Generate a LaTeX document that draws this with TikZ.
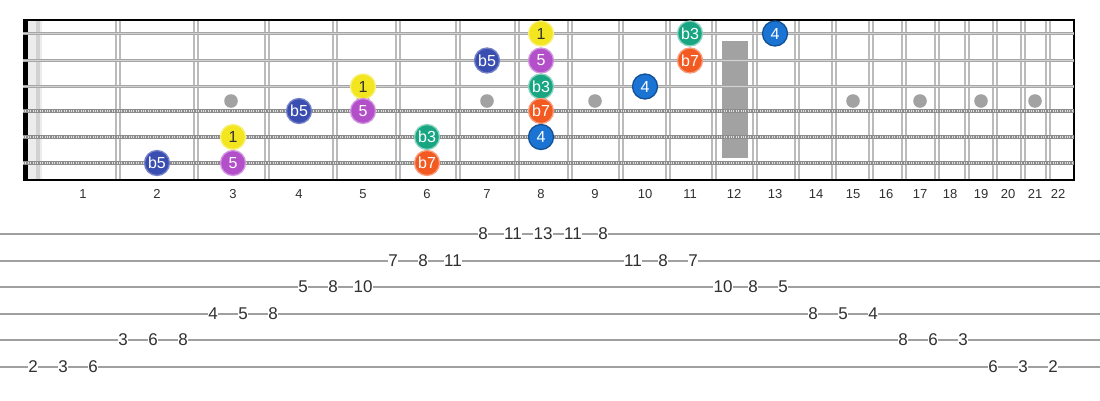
\documentclass[tikz,border=0pt]{standalone}
\usepackage{fontspec}
\setmainfont{Liberation Sans}
\definecolor{cY}{HTML}{F3E620}
\definecolor{cP}{HTML}{B24FC9}
\definecolor{cG}{HTML}{17A582}
\definecolor{cO}{HTML}{F25A22}
\definecolor{cB}{HTML}{1B74D3}
\definecolor{cI}{HTML}{3A4DB0}
\definecolor{markgray}{HTML}{A2A2A2}
\definecolor{fretc}{HTML}{BBBBBB}
\definecolor{strc}{HTML}{A6A6A6}
\definecolor{woundc}{HTML}{8C8C8C}
\definecolor{tabc}{HTML}{A0A0A0}
\definecolor{txt}{HTML}{303030}
\tikzset{
  note/.style={circle, minimum size=25pt, inner sep=0pt, line width=1.3pt, text=white, font=\fontsize{16}{16}\selectfont},
  tabnum/.style={fill=white, inner xsep=0.6pt, inner ysep=1pt, text=txt, font=\fontsize{17}{17}\selectfont},
  fretnum/.style={inner sep=0pt, text=txt, font=\fontsize{13}{13}\selectfont},
  plainstr/.style={line width=3pt, draw=strc},
  woundstr/.style={line width=4pt, draw=woundc},
  tabline/.style={line width=2pt, draw=tabc},
  fretwire/.style={line width=2pt, draw=fretc}
}
\begin{document}
\begin{tikzpicture}[x=1pt,y=-1pt]
\useasboundingbox[fill=white] (0,0) rectangle (1100,400);
% nut
\fill[gray!15] (28,20) rectangle (42,180);
\fill[gray!35] (36,20) rectangle (40,180);
\fill[black] (23,20) rectangle (28,181);
% frets
\foreach \f in {118,196,267,335,398,458,517,570,621,668,714,755,797,834,871,904,937,967,995,1023,1048}{
  \draw[fretwire] (\f-2,20) -- (\f-2,180);
  \draw[fretwire] (\f+2,20) -- (\f+2,180);
}
% borders
\draw[line width=2pt, black] (23,20) -- (1075,20);
\draw[line width=2pt, black] (23,180) -- (1075,180);
\draw[line width=2pt, black] (1074,20) -- (1074,181);
% markers
\foreach \m in {231,363,487,595,853,920,981,1035}{
  \fill[markgray] (\m,101) circle (6.8);
}
\fill[markgray] (722,41) rectangle (748,158);
% strings
\foreach \s in {33.5,60.5,86.5}{
  \draw[plainstr] (23,\s) -- (1074,\s);
  \draw[line width=1pt, gray!35] (23,\s) -- (1074,\s);
}
\foreach \s in {111,137,163}{
  \draw[woundstr] (23,\s) -- (1074,\s);
  \draw[line width=2pt, white!75!gray, dash pattern=on 1pt off 1.4pt] (23,\s) -- (1074,\s);
}
% fret numbers
\foreach \x [count=\n] in {83,157,233,299,363,427,487,541,595,645,690,734,775,816,853,886,920,950,981,1008,1035,1058}{
  \node[fretnum] (fn\n) at (\x,194) {\n};
}
% notes
\node[note, fill=cY, draw=cY!60!white, text=txt] (s1a) at (541,33.5) {1};
\node[note, fill=cG, draw=cG!50!white] (s1b) at (690,33.5) {b3};
\node[note, fill=cB, draw=cB!70!black] (s1c) at (775,33.5) {4};
\node[note, fill=cI, draw=cI!70!white] (s2a) at (487,60.5) {b5};
\node[note, fill=cP, draw=cP!60!white] (s2b) at (541,60.5) {5};
\node[note, fill=cO, draw=cO!60!white] (s2c) at (690,60.5) {b7};
\node[note, fill=cY, draw=cY!60!white, text=txt] (s3a) at (363,86.5) {1};
\node[note, fill=cG, draw=cG!50!white] (s3b) at (541,86.5) {b3};
\node[note, fill=cB, draw=cB!70!black] (s3c) at (645,86.5) {4};
\node[note, fill=cI, draw=cI!70!white] (s4a) at (299,111) {b5};
\node[note, fill=cP, draw=cP!60!white] (s4b) at (363,111) {5};
\node[note, fill=cO, draw=cO!60!white] (s4c) at (541,111) {b7};
\node[note, fill=cY, draw=cY!60!white, text=txt] (s5a) at (233,137) {1};
\node[note, fill=cG, draw=cG!50!white] (s5b) at (427,137) {b3};
\node[note, fill=cB, draw=cB!70!black] (s5c) at (541,137) {4};
\node[note, fill=cI, draw=cI!70!white] (s6a) at (157,163) {b5};
\node[note, fill=cP, draw=cP!60!white] (s6b) at (233,163) {5};
\node[note, fill=cO, draw=cO!60!white] (s6c) at (427,163) {b7};
% tab lines
\foreach \ty [count=\t] in {234,261,287,314,340,367}{
  \draw[tabline] (0,\ty) -- (1100,\ty);
}
% tab numbers
\foreach \v/\ty [count=\i from 0] in {2/367,3/367,6/367,3/340,6/340,8/340,4/314,5/314,8/314,5/287,8/287,10/287,7/261,8/261,11/261,8/234,11/234,13/234,11/234,8/234,11/261,8/261,7/261,10/287,8/287,5/287,8/314,5/314,4/314,8/340,6/340,3/340,6/367,3/367,2/367}{
  \node[tabnum] (t\i) at ({33+30*\i},\ty) {\v};
}
\end{tikzpicture}
\end{document}
